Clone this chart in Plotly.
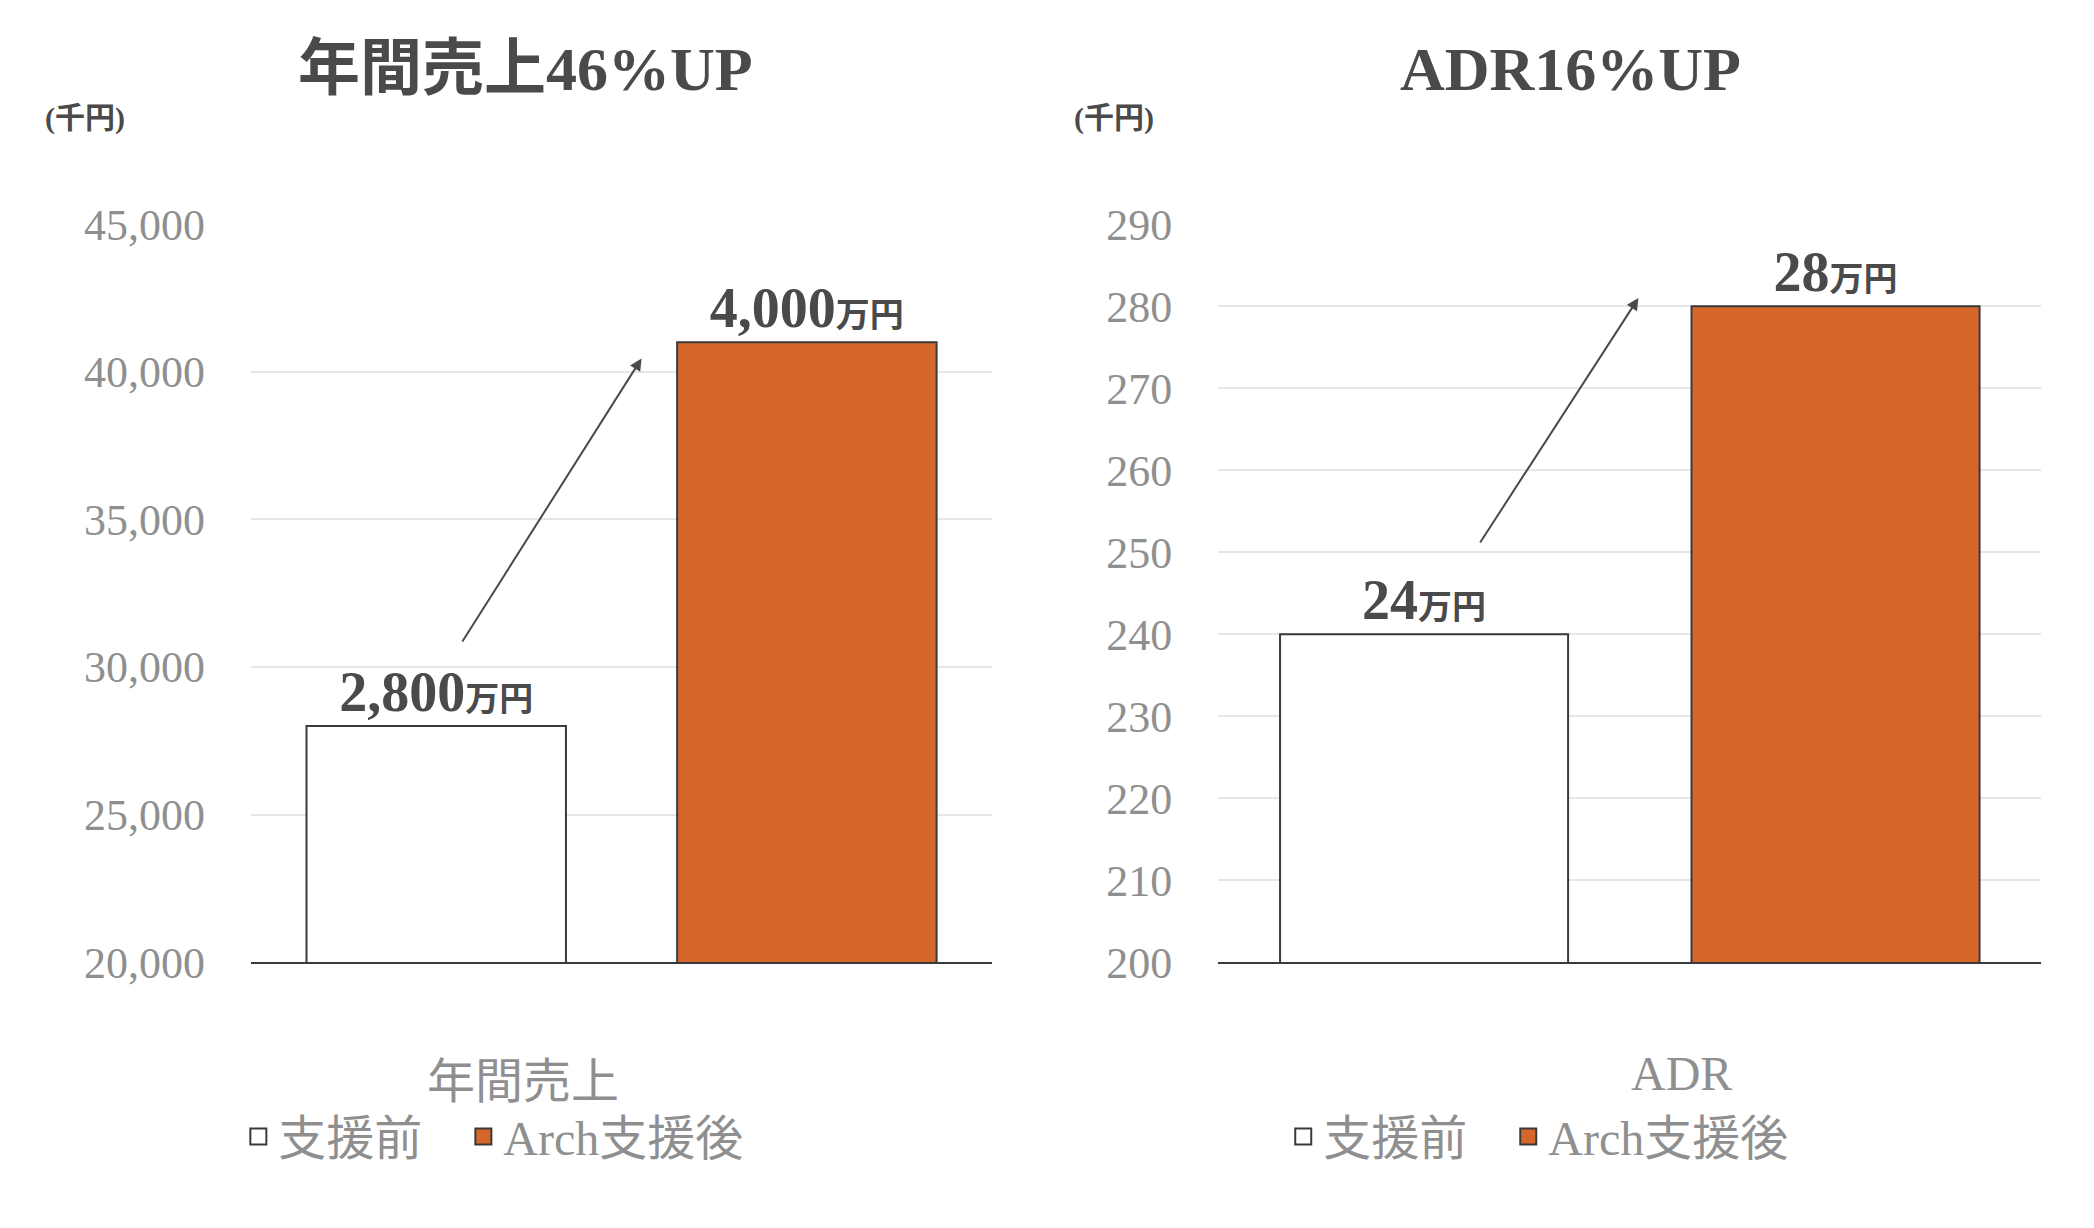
import plotly.graph_objects as go
from plotly.subplots import make_subplots

# data
series_names = ["支援前", "Arch支援後"]
sales_values = [28000, 41000]
sales_labels = ["2,800", "4,000"]
adr_values = [240, 280]
adr_labels = ["24", "28"]
sales_ticks = [20000, 25000, 30000, 35000, 40000, 45000]
adr_ticks = [200, 210, 220, 230, 240, 250, 260, 270, 280, 290]

ORANGE = "#D6672B"
EDGE = "#3a3a3a"
DARK = "#4a4a4a"
GRAY = "#8f8f8f"
FONT = "Liberation Serif, Noto Sans CJK JP"

fig = make_subplots(rows=1, cols=2)
fills = ["white", ORANGE]

for i, name in enumerate(series_names):
    for col, vals, labels, lg in [(1, sales_values, sales_labels, "legend"), (2, adr_values, adr_labels, "legend2")]:
        fig.add_trace(go.Bar(x=[i], y=[vals[i]], name=name, showlegend=False,
                             marker=dict(color=fills[i], line=dict(color=EDGE, width=2)), width=0.7,
                             text=[f"<b>{labels[i]}<span style='font-size:34px'>万円</span></b>"],
                             textposition="outside", cliponaxis=False,
                             textfont=dict(size=56, color=DARK, family=FONT)), row=1, col=col)
        # legend entries with larger square symbols
        fig.add_trace(go.Scatter(x=[None], y=[None], mode="markers", name=name + "   ", legend=lg,
                                 marker=dict(symbol="square", size=30, color=fills[i], line=dict(color=EDGE, width=2))),
                      row=1, col=col)

axis_common = dict(showgrid=False, showticklabels=False, range=[-0.5, 1.5], showline=True, linecolor=EDGE, linewidth=2, ticks="")
fig.update_xaxes(domain=[0.116, 0.470], **axis_common, row=1, col=1)
fig.update_xaxes(domain=[0.578, 0.971], **axis_common, row=1, col=2)

ycommon = dict(showgrid=True, gridcolor="#e6e6e6", gridwidth=2, zeroline=False, domain=[0.211, 0.837],
               tickfont=dict(size=44, color=GRAY, family=FONT), ticklabelstandoff=45)
fig.update_yaxes(range=[20000, 45000], tickvals=sales_ticks, tickformat=",", **ycommon, row=1, col=1)
fig.update_yaxes(range=[200, 290], tickvals=adr_ticks, **ycommon, row=1, col=2)

ann = [
    dict(text="<b>年間売上46%UP</b>", x=0.247, y=0.969, size=62, color=DARK),
    dict(text="<b>ADR16%UP</b>", x=0.746, y=0.969, size=62, color=DARK),
    dict(text="<b>(千円)</b>", x=0.037, y=0.927, size=30, color=DARK),
    dict(text="<b>(千円)</b>", x=0.528, y=0.927, size=30, color=DARK),
    dict(text="年間売上", x=0.246, y=0.110, size=48, color=GRAY),
    dict(text="ADR", x=0.799, y=0.117, size=48, color=GRAY),
]
for a in ann:
    fig.add_annotation(text=a["text"], x=a["x"], y=a["y"], xref="paper", yref="paper", showarrow=False,
                       xanchor="center", yanchor="middle",
                       font=dict(size=a["size"], color=a["color"], family=FONT))

fig.add_annotation(x=0.554, y=40450, ax=0.068, ay=30812, xref="x", yref="y", axref="x", ayref="y",
                   showarrow=True, arrowhead=2, arrowsize=1.2, arrowwidth=2, arrowcolor=DARK, text="")
fig.add_annotation(x=0.521, y=281, ax=0.134, ay=251, xref="x2", yref="y2", axref="x2", ayref="y2",
                   showarrow=True, arrowhead=2, arrowsize=1.2, arrowwidth=2, arrowcolor=DARK, text="")

leg = dict(orientation="h", xanchor="left", yanchor="middle", font=dict(size=48, color=GRAY, family=FONT),
           bgcolor="rgba(0,0,0,0)", itemwidth=30, tracegroupgap=0)
fig.update_layout(
    width=2094, height=1228, margin=dict(l=0, r=0, t=0, b=0),
    plot_bgcolor="white", paper_bgcolor="white",
    legend=dict(x=0.11, y=0.063, **leg),
    legend2=dict(x=0.609, y=0.063, **leg),
)

fig.write_html("out.html")
